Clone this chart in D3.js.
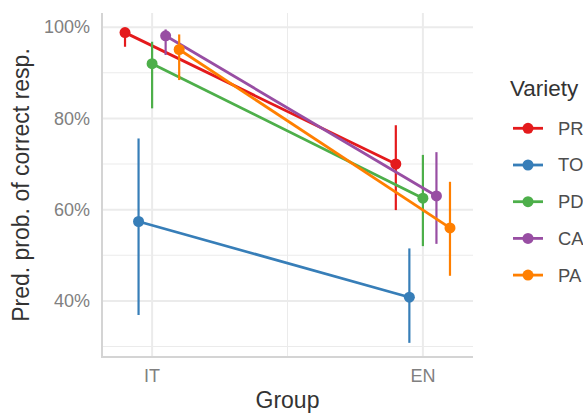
<!DOCTYPE html>
<html>
<head>
<meta charset="utf-8">
<script src="https://cdn.jsdelivr.net/npm/d3@7"></script>
<style>
  body { margin: 0; background: #fff; }
  svg { font-family: "Liberation Sans", Arial, sans-serif; }
</style>
</head>
<body>
<div id="chart"></div>
<script>
// data
const groups = ['IT', 'EN'];
const varieties = ['PR', 'TO', 'PD', 'CA', 'PA'];
const colors = ['#E41A1C', '#377EB8', '#4DAF4A', '#984EA3', '#FF7F00'];
// per variety: [IT, EN]
const estimate = [[98.8, 70.0], [57.4, 40.8], [92.0, 62.5], [98.1, 63.0], [95.1, 56.0]];
const lower    = [[95.7, 59.9], [36.9, 30.8], [82.2, 52.0], [93.9, 52.5], [88.4, 45.5]];
const upper    = [[99.5, 78.5], [75.6, 51.5], [96.8, 72.0], [99.5, 72.6], [98.4, 66.1]];
const yTicks = [40, 60, 80, 100];
const yMinor = [30, 50, 70, 90];

const width = 583, height = 413;
const margin = { top: 13, right: 110, bottom: 56, left: 102 };
const dodge = 0.05;

const svg = d3.select('#chart').append('svg')
  .attr('width', width).attr('height', height);

const x = d3.scaleLinear([0.815, 2.185], [margin.left, width - margin.right]);
const y = d3.scaleLinear([27.7, 103.1], [height - margin.bottom, margin.top]);

// grid
const grid = svg.append('g');
grid.selectAll('.minor').data(yMinor).join('line')
  .attr('x1', margin.left).attr('x2', width - margin.right)
  .attr('y1', d => y(d)).attr('y2', d => y(d))
  .attr('stroke', '#ebebeb').attr('stroke-width', 1);
grid.append('line')
  .attr('x1', x(1.5)).attr('x2', x(1.5))
  .attr('y1', margin.top).attr('y2', height - margin.bottom)
  .attr('stroke', '#ebebeb').attr('stroke-width', 1);
grid.selectAll('.major').data(yTicks).join('line')
  .attr('x1', margin.left).attr('x2', width - margin.right)
  .attr('y1', d => y(d)).attr('y2', d => y(d))
  .attr('stroke', '#ebebeb').attr('stroke-width', 2);
grid.selectAll('.xmajor').data([1, 2]).join('line')
  .attr('x1', d => x(d)).attr('x2', d => x(d))
  .attr('y1', margin.top).attr('y2', height - margin.bottom)
  .attr('stroke', '#ebebeb').attr('stroke-width', 2);

// axis lines
svg.append('line')
  .attr('x1', margin.left).attr('x2', margin.left)
  .attr('y1', margin.top).attr('y2', height - margin.bottom)
  .attr('stroke', '#d4d4d4').attr('stroke-width', 2);
svg.append('line')
  .attr('x1', margin.left - 1).attr('x2', width - margin.right)
  .attr('y1', height - margin.bottom).attr('y2', height - margin.bottom)
  .attr('stroke', '#d4d4d4').attr('stroke-width', 2);

// tick labels
svg.append('g').selectAll('text').data(yTicks).join('text')
  .attr('x', margin.left - 12).attr('y', d => y(d)).attr('dy', '0.35em')
  .attr('text-anchor', 'end').attr('fill', '#808080')
  .style('font-size', '18px')
  .text(d => d + '%');
svg.append('g').selectAll('text').data(groups).join('text')
  .attr('x', (d, i) => x(i + 1)).attr('y', 382)
  .attr('text-anchor', 'middle').attr('fill', '#808080')
  .style('font-size', '18px')
  .text(d => d);

// axis titles
svg.append('text')
  .attr('x', (margin.left + width - margin.right) / 2).attr('y', 408)
  .attr('text-anchor', 'middle').attr('fill', '#333')
  .style('font-size', '23px')
  .text('Group');
svg.append('text')
  .attr('transform', `translate(29,${(margin.top + height - margin.bottom) / 2}) rotate(-90)`)
  .attr('text-anchor', 'middle').attr('fill', '#333')
  .style('font-size', '23px')
  .text('Pred. prob. of correct resp.');

// series
const series = varieties.map((v, k) => ({
  name: v,
  color: colors[k],
  off: (k - 2) * dodge,
  pts: groups.map((g, i) => ({ gi: i + 1, est: estimate[k][i], lo: lower[k][i], hi: upper[k][i] }))
}));

const line = d3.line().x(d => d[0]).y(d => d[1]);

const sg = svg.append('g').selectAll('g').data(series).join('g');
sg.append('path')
  .attr('d', s => line(s.pts.map(p => [x(p.gi + s.off), y(p.est)])))
  .attr('fill', 'none').attr('stroke', s => s.color).attr('stroke-width', 2.8);
sg.selectAll('.eb').data(s => s.pts.map(p => ({ ...p, s }))).join('line')
  .attr('x1', d => x(d.gi + d.s.off)).attr('x2', d => x(d.gi + d.s.off))
  .attr('y1', d => y(d.lo)).attr('y2', d => y(d.hi))
  .attr('stroke', d => d.s.color).attr('stroke-width', 2.2);
sg.selectAll('circle').data(s => s.pts.map(p => ({ ...p, s }))).join('circle')
  .attr('cx', d => x(d.gi + d.s.off)).attr('cy', d => y(d.est))
  .attr('r', 5.5).attr('fill', d => d.s.color);

// legend
const legend = svg.append('g').attr('transform', 'translate(510,0)');
legend.append('text')
  .attr('x', 0).attr('y', 96).attr('fill', '#333')
  .style('font-size', '22.5px')
  .text('Variety');
const items = legend.selectAll('.item').data(series).join('g')
  .attr('transform', (d, i) => `translate(0,${128.3 + i * 36.7})`);
items.append('line')
  .attr('x1', 3).attr('x2', 33)
  .attr('stroke', d => d.color).attr('stroke-width', 2.8);
items.append('circle')
  .attr('cx', 18).attr('r', 5.5).attr('fill', d => d.color);
items.append('text')
  .attr('x', 48).attr('dy', '0.35em').attr('fill', '#4d4d4d')
  .style('font-size', '18.4px')
  .text(d => d.name);
</script>
</body>
</html>
